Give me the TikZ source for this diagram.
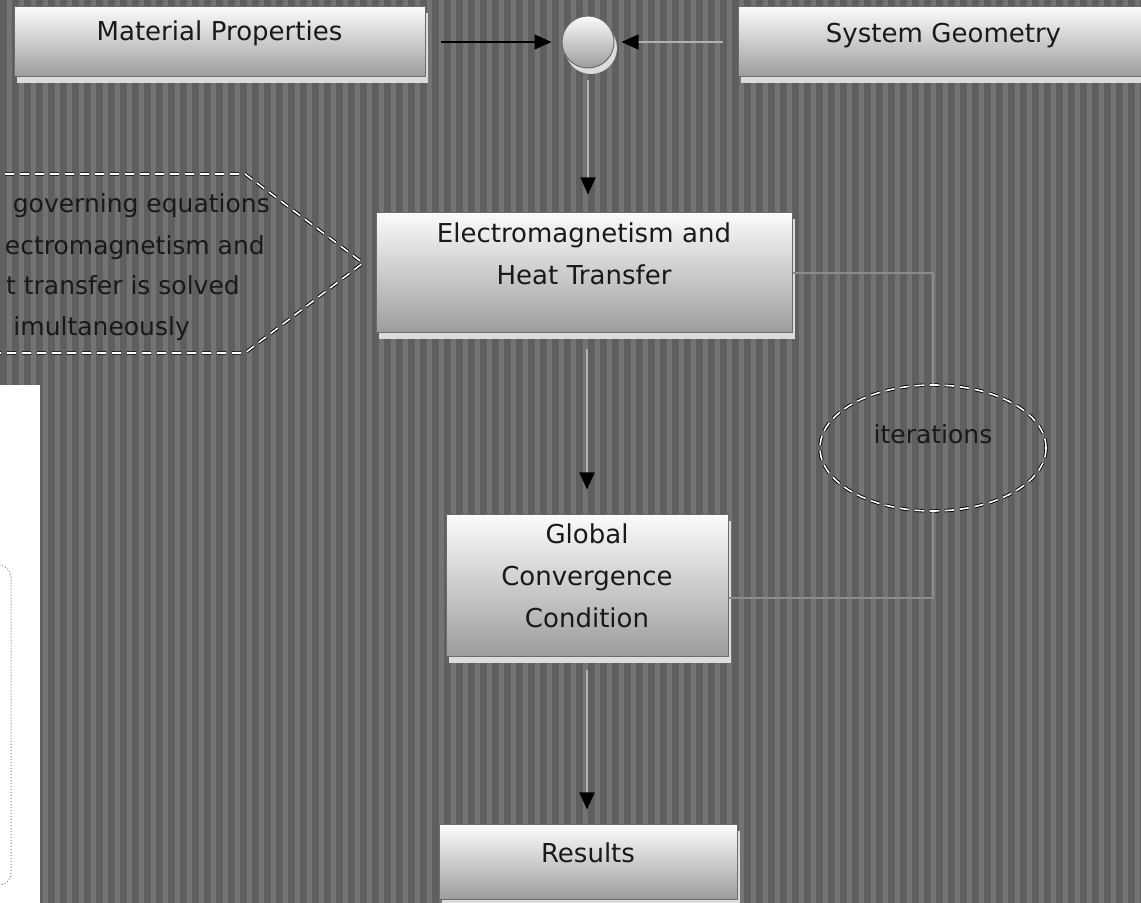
\documentclass[tikz,border=0pt]{standalone}
\usepackage{fontspec}
\setmainfont{DejaVu Sans}
\usepackage{tikz}
\usetikzlibrary{arrows.meta,shapes,shadows}
\definecolor{stripedark}{HTML}{5F5F5F}
\definecolor{stripelight}{HTML}{747474}
\definecolor{boxtop}{HTML}{FBFBFB}
\definecolor{boxbot}{HTML}{9C9C9C}
\definecolor{boxrim}{HTML}{6C6C6C}
\definecolor{glow}{HTML}{DCDCDC}
\definecolor{loopline}{HTML}{8C8C8C}
\definecolor{feedline}{HTML}{B2B2B2}
\newcommand{\boxfont}{\fontsize{26bp}{42bp}\selectfont}
\newcommand{\notefont}{\fontsize{25bp}{41bp}\selectfont}

\begin{document}
\begin{tikzpicture}
      \tikzstyle{every node}=[font=\boxfont, text=black!90]
      \tikzstyle{stepbox}=[rectangle, draw=boxrim, line width=1bp, top color=boxtop, bottom color=boxbot,
        drop shadow={shadow xshift=3bp, shadow yshift=-6bp, fill=glow, opacity=1},
        inner sep=0pt, text width=270bp, align=center, text height=20bp, text depth=20bp]
      \tikzstyle{dashring}=[draw=white, line width=1.6bp, dash pattern=on 9bp off 6bp,
        preaction={draw=black, line width=3.4bp, dash pattern=on 9bp off 6bp}]
      \tikzstyle{flow}=[-{Triangle[length=17bp, width=15bp, color=black]}, line width=1.5bp]
      %%
  \useasboundingbox (0,0) rectangle (1141bp,903bp);
  \fill [stripedark] (0,0) rectangle (1141bp,903bp);
  \foreach \i in {0,...,95} \fill [stripelight] (\i*12bp+7bp,0) rectangle ++(5bp,903bp);
  \fill [white] (0,0) rectangle (40bp,518bp);
  \draw [gray, dotted, line width=1bp, rounded corners=12bp] (-30bp,18bp) rectangle (11bp,338bp);
  %%
  \draw [dashring] (-10bp,729bp) -- (245bp,729bp) -- (363bp,640bp) -- (245bp,550bp) -- (-10bp,550bp);
  \node (note1) at (270bp,690bp) [anchor=base east, inner sep=0pt, font=\notefont] {governing equations};
  \node (note2) at (265bp,648bp) [anchor=base east, inner sep=0pt, font=\notefont] {ectromagnetism and};
  \node (note3) at (240bp,608bp) [anchor=base east, inner sep=0pt, font=\notefont] {t transfer is solved};
  \node (note4) at (190bp,567bp) [anchor=base east, inner sep=0pt, font=\notefont] {imultaneously};
  %%
  \node (matprop) at (219.5bp,861bp) [stepbox, minimum width=411bp, minimum height=70bp, text depth=22.6bp] {Material Properties};
  \node (sysgeo) at (943.5bp,861bp) [stepbox, minimum width=411bp, minimum height=70bp, text depth=18.6bp] {System Geometry};
  \node (junc) at (588bp,861bp) [circle, draw=boxrim, line width=1bp, minimum size=52bp, inner sep=0pt, top color=boxtop, bottom color=boxbot,
    drop shadow={shadow xshift=3bp, shadow yshift=-6bp, fill=glow, opacity=1}] {};
  \node (emht) at (584bp,630bp) [stepbox, minimum width=416bp, minimum height=120bp, text width=380bp, text depth=80bp] {Electromagnetism and\\Heat Transfer};
  \node (gconv) at (587bp,317bp) [stepbox, minimum width=282bp, minimum height=142bp, text depth=104bp] {Global\\Convergence\\Condition};
  \node (result) at (588bp,40.5bp) [stepbox, minimum width=298bp, minimum height=75bp] {Results};
  \node (iter) at (933bp,455bp) [ellipse, dashring, minimum width=226bp, minimum height=126bp, font=\notefont, text height=19bp, text depth=27bp] {iterations};
  %%
  \draw [flow, shorten <=15bp, shorten >=10bp] (matprop) -- (junc);
  \draw [flow, feedline, shorten <=15bp, shorten >=7bp] (sysgeo) -- (junc);
  \draw [flow, feedline, shorten <=12bp, shorten >=18bp] (junc) -- (junc |- emht.north);
  \draw [flow, feedline, shorten <=16bp, shorten >=25bp] (gconv |- emht.south) -- (gconv.north);
  \draw [flow, feedline, shorten <=13bp, shorten >=15bp] (gconv.south) -- (gconv.south |- result.north);
  \draw [loopline, line width=1.5bp] (emht.east) -| (iter.north);
  \draw [loopline, line width=1.5bp] (iter.south) |- ([yshift=-12bp]gconv.east);
%
\end{tikzpicture}
\end{document}
